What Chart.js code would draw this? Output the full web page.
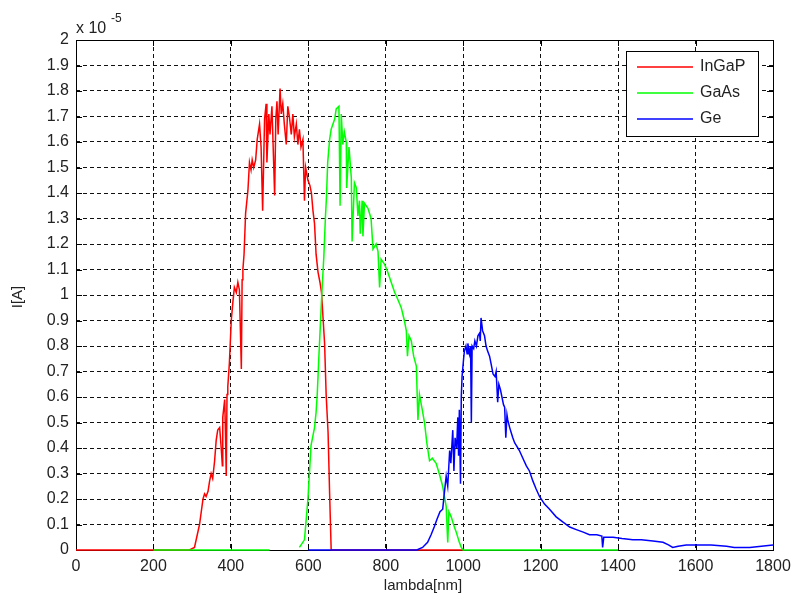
<!DOCTYPE html>
<html>
<head>
<meta charset="utf-8">
<script src="https://cdn.jsdelivr.net/npm/chart.js@4.4.1/dist/chart.umd.min.js"></script>
<style>
  html, body { margin: 0; padding: 0; background: #fff; }
  #wrap { width: 807px; height: 601px; }
</style>
</head>
<body>
<div id="wrap"><canvas id="chart" width="807" height="601"></canvas></div>
<script>
// values in units of 1e-5 A, wavelength in nm
const ingapNm = [0, 200, 293, 306, 319, 328, 332, 336, 341, 345, 349, 353, 358, 362, 366, 371, 375, 378, 379, 384, 386, 388, 390, 392, 396, 401, 405, 409, 414, 418, 422, 427, 429, 431, 434, 438, 444, 448, 452, 455, 459, 464, 468, 474, 478, 482, 487, 491, 493, 498, 501, 506, 513, 516, 519, 522, 527, 530, 534, 538, 543, 547, 551, 556, 560, 564, 569, 573, 577, 581, 586, 590, 593, 599, 604, 608, 612, 616, 620, 625, 630, 634, 638, 642, 646, 651, 655, 659, 1000];
const ingapI = [0, 0, 0, 0.01, 0.10, 0.20, 0.22, 0.21, 0.23, 0.27, 0.30, 0.28, 0.35, 0.43, 0.47, 0.48, 0.40, 0.33, 0.52, 0.59, 0.46, 0.29, 0.61, 0.64, 0.73, 0.90, 0.97, 1.03, 1.01, 1.05, 1.02, 0.71, 1.06, 1.10, 1.16, 1.32, 1.41, 1.52, 1.49, 1.53, 1.50, 1.53, 1.61, 1.67, 1.58, 1.33, 1.69, 1.75, 1.52, 1.71, 1.63, 1.74, 1.39, 1.69, 1.76, 1.63, 1.81, 1.71, 1.75, 1.67, 1.59, 1.74, 1.70, 1.63, 1.71, 1.62, 1.67, 1.59, 1.65, 1.58, 1.61, 1.37, 1.50, 1.45, 1.43, 1.40, 1.33, 1.28, 1.16, 1.09, 1.05, 1.01, 0.91, 0.81, 0.61, 0.46, 0.22, 0, 0];

const gaasNm = [200, 500, 550, 577, 590, 599, 607, 616, 620, 623, 627, 631, 635, 640, 644, 647, 650, 655, 659, 668, 672, 679, 682, 685, 689, 693, 698, 699, 705, 711, 713, 719, 724, 728, 732, 734, 739, 741, 745, 754, 762, 767, 775, 780, 784, 788, 797, 805, 814, 823, 829, 840, 848, 853, 856, 860, 866, 872, 879, 883, 887, 893, 900, 906, 913, 920, 930, 938, 947, 956, 960, 963, 969, 975, 982, 990, 995, 1000, 1400];
const gaasI = [0, 0, null, 0.01, 0.04, 0.20, 0.41, 0.48, 0.54, 0.61, 0.75, 0.88, 1.01, 1.15, 1.30, 1.39, 1.52, 1.61, 1.65, 1.69, 1.73, 1.74, 1.35, 1.71, 1.59, 1.64, 1.60, 1.42, 1.58, 1.46, 1.21, 1.44, 1.42, 1.31, 1.37, 1.24, 1.37, 1.23, 1.36, 1.34, 1.30, 1.18, 1.20, 1.17, 1.03, 1.14, 1.12, 1.09, 1.05, 1.01, 0.99, 0.95, 0.90, 0.86, 0.76, 0.84, 0.82, 0.76, 0.72, 0.51, 0.61, 0.56, 0.50, 0.42, 0.35, 0.36, 0.34, 0.30, 0.25, 0.17, 0.03, 0.15, 0.13, 0.10, 0.07, 0.03, 0.01, 0, 0];

const geNm = [600, 880, 895, 908, 917, 925, 932, 940, 947, 951, 956, 960, 965, 968, 973, 976, 979, 983, 986, 988, 990, 993, 995, 997, 1001, 1003, 1007, 1010, 1012, 1016, 1019, 1021, 1023, 1027, 1030, 1034, 1038, 1042, 1044, 1046, 1050, 1055, 1059, 1063, 1068, 1072, 1077, 1082, 1085, 1089, 1092, 1096, 1100, 1104, 1107, 1110, 1113, 1115, 1120, 1124, 1128, 1133, 1137, 1141, 1145, 1154, 1163, 1171, 1180, 1188, 1197, 1210, 1223, 1240, 1257, 1275, 1292, 1310, 1326, 1345, 1358, 1360, 1363, 1387, 1410, 1438, 1460, 1490, 1516, 1530, 1541, 1555, 1576, 1600, 1640, 1680, 1700, 1713, 1740, 1770, 1800];
const geI = [0, 0, 0.01, 0.03, 0.06, 0.09, 0.12, 0.15, 0.16, 0.22, 0.29, 0.25, 0.39, 0.34, 0.47, 0.31, 0.44, 0.40, 0.52, 0.37, 0.55, 0.26, 0.60, 0.68, 0.75, 0.78, 0.80, 0.77, 0.81, 0.77, 0.80, 0.50, 0.80, 0.79, 0.82, 0.80, 0.84, 0.85, 0.82, 0.91, 0.86, 0.84, 0.80, 0.78, 0.76, 0.73, 0.69, 0.68, 0.70, 0.58, 0.65, 0.63, 0.60, 0.57, 0.56, 0.44, 0.53, 0.51, 0.48, 0.46, 0.44, 0.42, 0.41, 0.40, 0.39, 0.36, 0.33, 0.31, 0.27, 0.24, 0.21, 0.18, 0.16, 0.13, 0.11, 0.09, 0.08, 0.07, 0.06, 0.06, 0.055, 0.01, 0.05, 0.05, 0.045, 0.04, 0.04, 0.035, 0.03, 0.02, 0.01, 0.015, 0.02, 0.02, 0.02, 0.015, 0.01, 0.01, 0.01, 0.015, 0.02];

const seriesNames = ['InGaP', 'GaAs', 'Ge'];
const seriesColors = ['#ff0000', '#00ff00', '#0000ff'];

const FONT = '"Liberation Sans", Arial, sans-serif';

function pairs(xs, ys) {
  return xs.map((x, i) => ({ x, y: ys[i] }));
}

// MATLAB style box with inner ticks, under the curves
const matlabFrame = {
  id: 'matlabFrame',
  beforeDatasetsDraw(chart) {
    const { ctx, chartArea: a, scales } = chart;
    ctx.save();
    ctx.strokeStyle = '#000';
    ctx.lineWidth = 1;
    ctx.setLineDash([]);
    ctx.strokeRect(a.left + 0.5, a.top + 0.5, a.right - a.left, a.bottom - a.top);

    const tl = 6;
    ctx.beginPath();
    scales.x.ticks.forEach((t) => {
      const px = Math.round(scales.x.getPixelForValue(t.value)) + 0.5;
      ctx.moveTo(px, a.bottom); ctx.lineTo(px, a.bottom - tl);
      ctx.moveTo(px, a.top); ctx.lineTo(px, a.top + tl);
    });
    scales.y.ticks.forEach((t) => {
      const py = Math.round(scales.y.getPixelForValue(t.value)) + 0.5;
      ctx.moveTo(a.left, py); ctx.lineTo(a.left + tl, py);
      ctx.moveTo(a.right, py); ctx.lineTo(a.right - tl, py);
    });
    ctx.stroke();
    ctx.restore();
  },
  afterDatasetsDraw(chart) {
    const { ctx } = chart;
    ctx.save();
    ctx.setLineDash([]);

    // legend
    const lx = 626, ly = 51, lw = 132, lh = 85;
    ctx.fillStyle = '#fff';
    ctx.fillRect(lx, ly, lw, lh);
    ctx.strokeStyle = '#000';
    ctx.lineWidth = 1;
    ctx.strokeRect(lx + 0.5, ly + 0.5, lw, lh);
    ctx.font = '16px ' + FONT;
    ctx.textBaseline = 'middle';
    ctx.textAlign = 'left';
    seriesNames.forEach((name, i) => {
      const yy = ly + 16 + i * 26;
      ctx.strokeStyle = seriesColors[i];
      ctx.lineWidth = 1.5;
      ctx.beginPath();
      ctx.moveTo(637, yy);
      ctx.lineTo(693, yy);
      ctx.stroke();
      ctx.fillStyle = '#222';
      ctx.fillText(name, 700, yy);
    });

    // exponent label
    ctx.fillStyle = '#222';
    ctx.textBaseline = 'alphabetic';
    ctx.font = '16px ' + FONT;
    ctx.fillText('x 10', 76, 33);
    ctx.font = '12px ' + FONT;
    ctx.fillText('-5', 111, 22);

    // axis titles
    ctx.font = '15px ' + FONT;
    ctx.textAlign = 'center';
    ctx.textBaseline = 'middle';
    ctx.fillText('lambda[nm]', 423, 586);
    ctx.translate(18, 297);
    ctx.rotate(-Math.PI / 2);
    ctx.fillText('I[A]', 0, 0);
    ctx.restore();
  }
};

const gridOpts = {
  color: '#111',
  lineWidth: 1,
  drawTicks: false
};

new Chart(document.getElementById('chart'), {
  type: 'line',
  data: {
    datasets: [
      { label: seriesNames[0], data: pairs(ingapNm, ingapI), borderColor: seriesColors[0], order: 3 },
      { label: seriesNames[1], data: pairs(gaasNm, gaasI), borderColor: seriesColors[1], order: 2 },
      { label: seriesNames[2], data: pairs(geNm, geI), borderColor: seriesColors[2], order: 1 }
    ].map((d) => Object.assign(d, { borderWidth: 1.5, pointRadius: 0, fill: false, tension: 0, spanGaps: false, clip: 4 }))
  },
  options: {
    responsive: false,
    animation: false,
    layout: { padding: { top: 40, right: 34, left: 0, bottom: 0 } },
    plugins: { legend: { display: false }, tooltip: { enabled: false } },
    scales: {
      x: {
        type: 'linear',
        min: 0,
        max: 1800,
        ticks: {
          stepSize: 200,
          padding: 7,
          color: '#222',
          font: { family: FONT, size: 16 },
          callback: (v) => String(v)
        },
        grid: gridOpts,
        border: { display: false, dash: [4, 3] },
        afterFit(scale) { scale.height = 51; }
      },
      y: {
        min: 0,
        max: 2,
        ticks: {
          stepSize: 0.1,
          padding: 7,
          color: '#222',
          font: { family: FONT, size: 16 },
          callback: (v) => String(Number(v.toFixed(1)))
        },
        grid: gridOpts,
        border: { display: false, dash: [4, 3] },
        afterFit(scale) { scale.width = 76; }
      }
    }
  },
  plugins: [matlabFrame]
});
</script>
</body>
</html>
